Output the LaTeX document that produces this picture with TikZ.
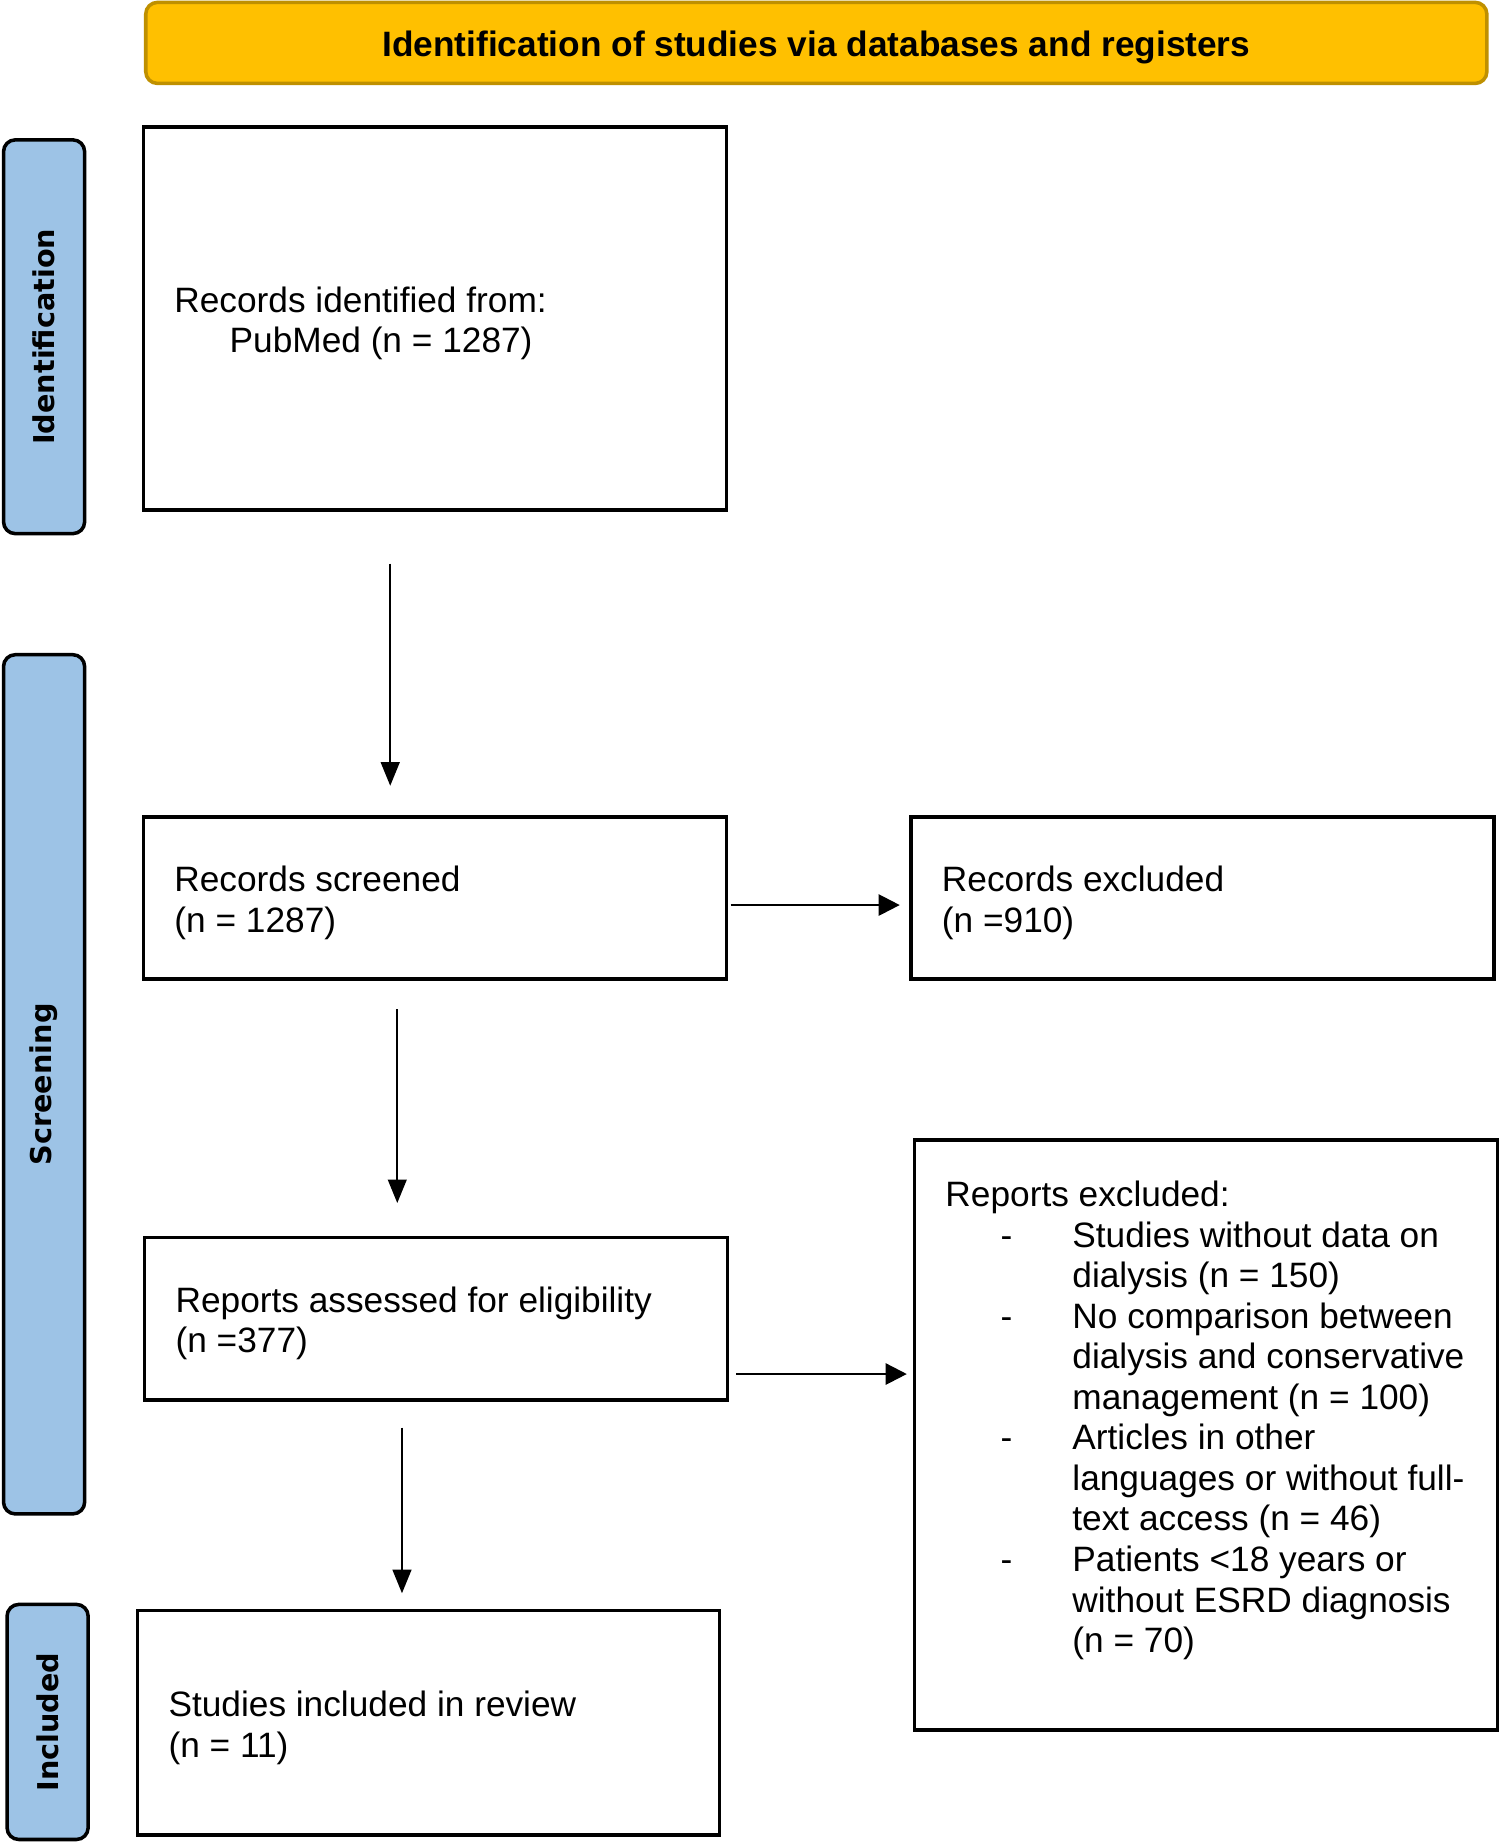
\documentclass[tikz,border=0pt]{standalone}
\usepackage{fontspec}
\setmainfont{Liberation Sans}
\newfontfamily\sidefont{DejaVu Sans}
\usetikzlibrary{arrows.meta}
\definecolor{hdrfill}{HTML}{FFC000}
\definecolor{hdrdraw}{HTML}{BF9000}
\definecolor{sidefill}{HTML}{9DC3E6}
\tikzset{
  box/.style={draw=black, line width=1.5pt, fill=white, inner sep=0pt},
  side/.style={draw=black, line width=1.5pt, fill=sidefill, rounded corners=5pt, inner sep=0pt,
    font=\sidefont\bfseries\fontsize{12.2}{14}\selectfont},
  hdr/.style={draw=hdrdraw, line width=1.5pt, fill=hdrfill, rounded corners=5pt, inner sep=0pt},
  hdrtext/.style={inner sep=0pt, font=\bfseries\fontsize{15}{17}\selectfont},
  txt/.style={anchor=west, align=left, inner sep=0pt, font=\fontsize{15}{17.25}\selectfont},
  arr/.style={-{Triangle[length=10pt,width=8pt]}, line width=0.75pt},
  harr/.style={-{Triangle[length=9pt,width=9pt]}, line width=1pt}
}
\begin{document}
\begin{tikzpicture}[x=0.5pt,y=-0.5pt]
\useasboundingbox (0,0) rectangle (1275,1568);
% header
\node[hdr, minimum width=570.5pt, minimum height=34.5pt] (hdr) at (694.5,36.5) {};
\node[hdrtext] (hdrt) at ([yshift=-2pt]hdr.center) {Identification of studies via databases and registers};
% side labels
\node[side, rotate=90, minimum width=167.5pt, minimum height=34.5pt] (sid) at (37.5,286.5) {Identification};
\node[side, rotate=90, minimum width=365.5pt, minimum height=34.5pt] (ssc) at (37.5,922.5) {Screening};
\node[side, rotate=90, minimum width=100pt, minimum height=34.5pt] (sin) at (40.5,1465) {Included};
% boxes
\node[box, minimum width=248pt, minimum height=163pt] (b1) at (370,271) {};
\node[box, minimum width=248pt, minimum height=69pt] (b2) at (370,764) {};
\node[box, minimum width=248pt, minimum height=69pt] (b3) at (1023,764) {};
\node[box, minimum width=248pt, minimum height=69pt] (b4) at (371,1122) {};
\node[box, minimum width=248pt, minimum height=251pt] (b5) at (1026,1221) {};
\node[box, minimum width=247.5pt, minimum height=95.5pt] (b6) at (364.5,1465.5) {};
% texts
\node[txt] (t1) at (148,275) {Records identified from:\\\hspace*{23.5pt}PubMed (n = 1287)};
\node[txt] (t2) at (148,768) {Records screened\\(n = 1287)};
\node[txt] (t3) at (801,768) {Records excluded\\(n =910)};
\node[txt] (t4) at (149,1126) {Reports assessed for eligibility\\(n =377)};
\node[txt] (t5) at (804,1208.5) {Reports excluded:\\
\makebox[54pt][l]{\hspace*{23.5pt}-}Studies without data on\\
\hspace*{54pt}dialysis (n = 150)\\
\makebox[54pt][l]{\hspace*{23.5pt}-}No comparison between\\
\hspace*{54pt}dialysis and conservative\\
\hspace*{54pt}management (n = 100)\\
\makebox[54pt][l]{\hspace*{23.5pt}-}Articles in other\\
\hspace*{54pt}languages or without full-\\
\hspace*{54pt}text access (n = 46)\\
\makebox[54pt][l]{\hspace*{23.5pt}-}Patients <18 years or\\
\hspace*{54pt}without ESRD diagnosis\\
\hspace*{54pt}(n = 70)};
\node[txt] (t6) at (143,1470) {Studies included in review\\(n = 11)};
% arrows
\draw[arr] ([xshift=-19pt,yshift=-22pt]b1.south) -- ([xshift=-19pt,yshift=12.5pt]b2.north);
\draw[harr] ([xshift=1pt,yshift=-3pt]b2.east) -- ([xshift=-4pt,yshift=-3pt]b3.west);
\draw[arr] ([xshift=-16pt,yshift=-12pt]b2.south) -- ([xshift=-16.5pt,yshift=14pt]b4.north);
\draw[harr] ([xshift=3pt,yshift=-23.5pt]b4.east) -- ([xshift=-2.5pt,yshift=26pt]b5.west);
\draw[arr] ([xshift=-14.5pt,yshift=-11pt]b4.south) -- ([xshift=-11.25pt,yshift=6.5pt]b6.north);
\end{tikzpicture}
\end{document}
